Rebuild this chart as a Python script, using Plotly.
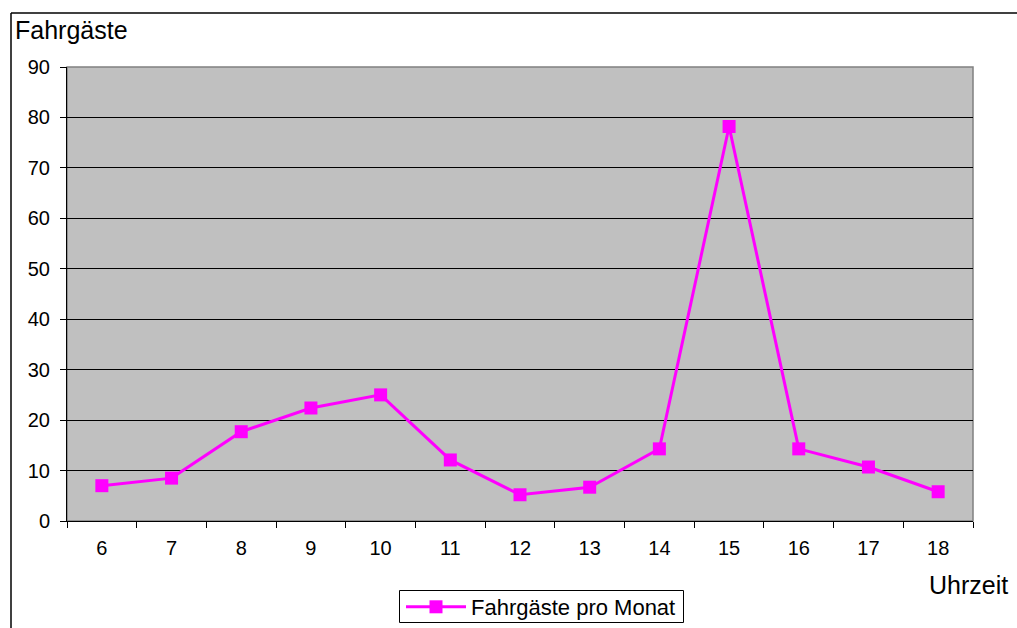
import plotly.graph_objects as go

hours = ["6", "7", "8", "9", "10", "11", "12", "13", "14", "15", "16", "17", "18"]
passengers = [7, 8.5, 17.7, 22.4, 25, 12.1, 5.2, 6.7, 14.3, 78.2, 14.3, 10.7, 5.8]
y_ticks = [0, 10, 20, 30, 40, 50, 60, 70, 80, 90]

W, H = 1017, 628
L, R, T, B = 67, 44, 67, 107
pw, ph = W - L - R, H - T - B

def px(x):
    return (x - L) / pw

def py(y):
    return (H - B - y) / ph

font = dict(family="Liberation Sans, Arial, sans-serif", color="black")

fig = go.Figure()
fig.add_trace(go.Scatter(
    x=hours, y=passengers, mode="lines+markers",
    name="Fahrgäste pro Monat",
    line=dict(color="#FF00FF", width=3),
    marker=dict(symbol="square", size=13, color="#FF00FF"),
))

fig.update_layout(
    template="none",
    width=W, height=H,
    margin=dict(l=L, r=R, t=T, b=B, pad=0),
    paper_bgcolor="white",
    plot_bgcolor="#C0C0C0",
    font=dict(size=20, **font),
    showlegend=True,
    legend=dict(
        orientation="h", xref="container", yref="container",
        x=541 / W, xanchor="center", y=1 - 607 / H, yanchor="middle",
        borderwidth=0, bgcolor="rgba(0,0,0,0)",
        font=dict(size=22, **font), itemwidth=60,
    ),
    xaxis=dict(
        type="category", range=[-0.5, 12.5], tickson="boundaries",
        ticks="outside", ticklen=6, tickcolor="black", tickwidth=1,
        showline=True, linecolor="black", linewidth=1,
        showgrid=False, ticklabelstandoff=9, automargin=False,
        tickfont=dict(size=20, **font),
    ),
    yaxis=dict(
        range=[0, 90], tickvals=y_ticks, ticks="outside", ticklen=6,
        tickcolor="black", tickwidth=1, showline=True, linecolor="black", linewidth=1,
        showgrid=True, gridcolor="black", gridwidth=1, zeroline=False,
        tickfont=dict(size=20, **font), ticklabelstandoff=6, automargin=False,
    ),
    shapes=[
        # plot-area frame
        dict(type="rect", xref="paper", yref="paper", x0=0, x1=1, y0=0, y1=1,
             line=dict(color="#808080", width=1.5), layer="below"),
        # outer chart frame: top and left edges
        dict(type="line", xref="paper", yref="paper",
             x0=px(11), x1=px(W + 5), y0=py(13), y1=py(13),
             line=dict(color="black", width=1.5)),
        dict(type="line", xref="paper", yref="paper",
             x0=px(11), x1=px(11), y0=py(13), y1=py(H + 5),
             line=dict(color="black", width=1.5)),
        # legend box
        dict(type="rect", xref="paper", yref="paper",
             x0=px(399.5), x1=px(683.5), y0=py(590.5), y1=py(622.5),
             line=dict(color="black", width=1), fillcolor="white", layer="below"),
    ],
    annotations=[
        dict(text="Fahrgäste", xref="paper", yref="paper", x=px(13), y=py(30),
             xanchor="left", yanchor="middle", showarrow=False,
             font=dict(size=25, **font)),
        dict(text="Uhrzeit", xref="paper", yref="paper", x=px(1010), y=py(585),
             xanchor="right", yanchor="middle", showarrow=False,
             font=dict(size=25, **font)),
    ],
)

fig.write_html("out.html")
